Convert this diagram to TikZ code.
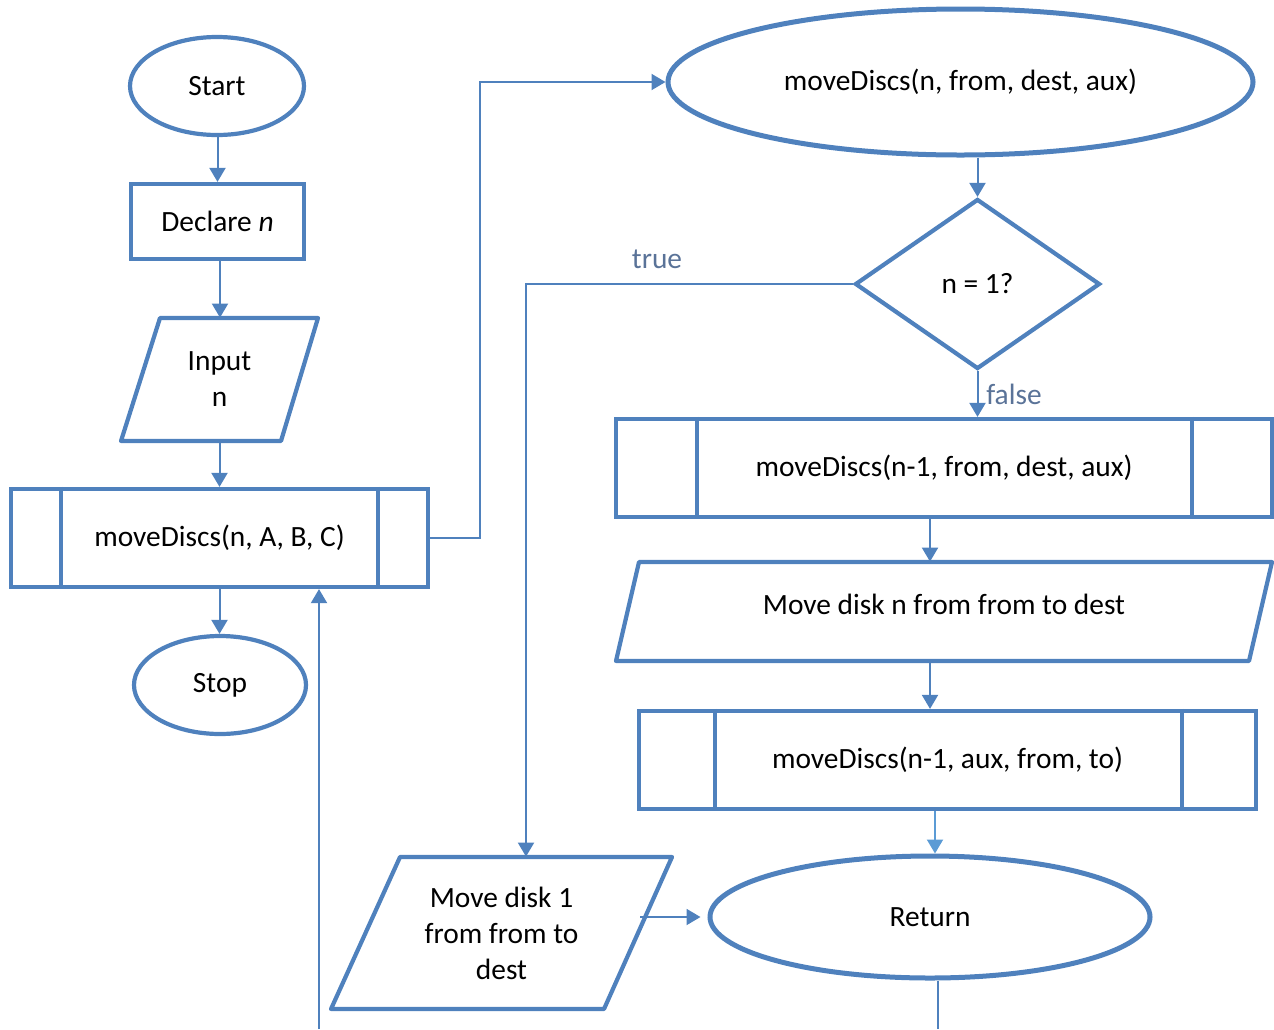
\documentclass[tikz,border=0pt]{standalone}
\usepackage{fontspec}
\setmainfont{Carlito}
\usetikzlibrary{shapes.geometric,arrows.meta}
\definecolor{fcblue}{HTML}{4F81BD}
\definecolor{fclight}{HTML}{5B9BD5}
\definecolor{lblcol}{HTML}{5A7398}
\begin{document}
\begin{tikzpicture}[x=0.5pt,y=-0.5pt,
  shapeline/.style={draw=fcblue,line width=2.1pt},
  term/.style={shape=ellipse,shapeline,inner sep=0pt},
  procbox/.style={rectangle,shapeline,inner sep=0pt},
  area/.style={rectangle,inner sep=0pt,align=center},
  conn/.style={draw=fcblue,line width=1pt,-{Triangle[length=7pt,width=8pt]}},
  plain/.style={draw=fcblue,line width=1pt},
  lbl/.style={text=lblcol},
  font=\fontsize{14.7}{18}\selectfont]
\useasboundingbox (0,0) rectangle (1274,1029);

% left column
\node[term,minimum width=87pt,minimum height=49pt] (start) at (217,86) {Start};
\node[procbox,minimum width=86.5pt,minimum height=37.5pt] (decl) at (217.5,221.5) {Declare \textit{n}};
\node[area,minimum width=98.5pt,minimum height=61.5pt] (inp) at (219.5,379.5) {Input\\n};
\draw[shapeline,line join=round] (160,318) -- (318,318) -- (281,441) -- (121,441) -- cycle;
\node[procbox,minimum width=208.5pt,minimum height=49pt] (main) at (219.5,538) {moveDiscs(n, A, B, C)};
\draw[shapeline] ([xshift=26pt]main.north west) -- ([xshift=26pt]main.south west);
\draw[shapeline] ([xshift=-26pt]main.north east) -- ([xshift=-26pt]main.south east);
\node[term,minimum width=86pt,minimum height=49pt] (stop) at (220,685) {Stop};

% right part
\node[term,line width=2.5pt,minimum width=292.5pt,minimum height=73pt] (md) at (960.5,82) {moveDiscs(n, from, dest, aux)};
\node[shape=diamond,shapeline,inner sep=0pt,minimum width=122.5pt,minimum height=85pt] (dec) at (977.5,284) {n = 1?};
\node[procbox,minimum width=328pt,minimum height=49pt] (sub1) at (944,468) {moveDiscs(n-1, from, dest, aux)};
\draw[shapeline] ([xshift=41.5pt]sub1.north west) -- ([xshift=41.5pt]sub1.south west);
\draw[shapeline] ([xshift=-41pt]sub1.north east) -- ([xshift=-41pt]sub1.south east);
\node[area,minimum width=328pt,minimum height=49.5pt] (mvn) at (944,611.5) {};
\draw[shapeline,line join=round] (639,562) -- (1272,562) -- (1249,661) -- (616,661) -- cycle;
\node[area] (mvnt) at (944,604) {Move disk n from from to dest};
\node[procbox,minimum width=308.5pt,minimum height=49pt] (sub2) at (947.5,760) {moveDiscs(n-1, aux, from, to)};
\draw[shapeline] ([xshift=39pt]sub2.north west) -- ([xshift=39pt]sub2.south west);
\draw[shapeline] ([xshift=-38pt]sub2.north east) -- ([xshift=-38pt]sub2.south east);
\node[term,line width=2.5pt,minimum width=220pt,minimum height=61pt] (ret) at (930,917) {Return};
\node[area,minimum width=170.5pt,minimum height=76pt] (md1) at (501.5,933) {Move disk 1\\from from to\\dest};
\draw[shapeline,line join=round] (400,857) -- (672,857) -- (604,1009) -- (331,1009) -- cycle;

% labels
\node[lbl] (ltrue) at (657,259) {true};
\node[lbl] (lfalse) at (1014,394) {false};

% connectors
\draw[conn] (start.south) -- (decl.south |- start.south) -- (decl.north);
\draw[conn] ([xshift=1.25pt]decl.south) -- ([xshift=1.25pt]decl.south |- inp.north);
\draw[conn] (inp.south) -- (inp.south |- main.north);
\draw[conn] (main.south) -- (main.south |- stop.north);
\draw[conn] (main.east) -- ++(25pt,0) |- (md.west);
\draw[conn] (dec.north |- md.south) -- (dec.north);
\draw[conn] (dec.west) -| ([xshift=12.25pt]md1.north);
\draw[conn] (dec.south) -- (dec.south |- sub1.north);
\draw[conn] ([xshift=-7pt]sub1.south) -- ([xshift=-7pt]sub1.south |- mvn.north);
\draw[conn] ([xshift=-7pt]mvn.south) -- ([xshift=-7pt]mvn.south |- sub2.north);
\draw[conn,draw=fclight,fill=fclight] ([xshift=-6.25pt]sub2.south) -- ([xshift=-6.25pt]sub2.south |- ret.north);
\coordinate (md1out) at (640,917);
\draw[conn,shorten >=3.5pt] (md1out) -- (ret.west);
\coordinate (retend) at (938,1029);
\draw[plain] ([xshift=4pt]ret.south) -- (retend);
\coordinate (loopend) at (319,1029);
\draw[conn] (loopend) -- (loopend |- main.south);
\end{tikzpicture}
\end{document}
